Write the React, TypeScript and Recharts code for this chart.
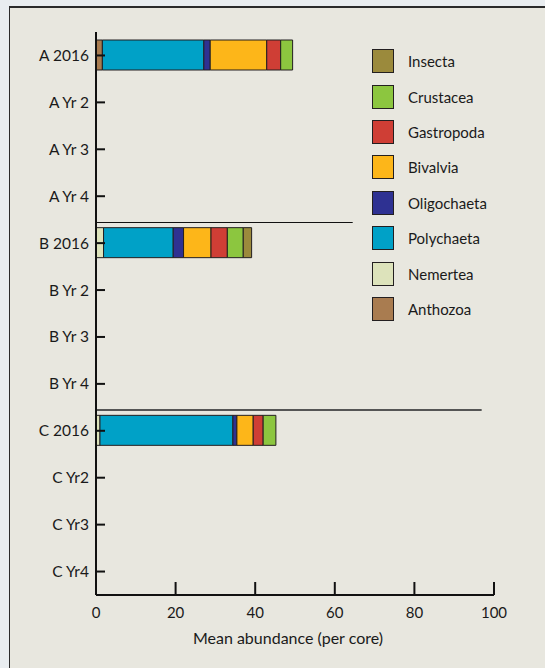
import React from "react";
import {
  BarChart,
  Bar,
  XAxis,
  YAxis,
  ReferenceLine,
} from "recharts";

const categories = [
  "A 2016", "A Yr 2", "A Yr 3", "A Yr 4",
  "B 2016", "B Yr 2", "B Yr 3", "B Yr 4",
  "C 2016", "C Yr2", "C Yr3", "C Yr4",
];

// stacked left to right
const anthozoa = [1.6, 0, 0, 0, 0, 0, 0, 0, 0, 0, 0, 0];
const nemertea = [0, 0, 0, 0, 1.9, 0, 0, 0, 1.0, 0, 0, 0];
const polychaeta = [25.5, 0, 0, 0, 17.5, 0, 0, 0, 33.4, 0, 0, 0];
const oligochaeta = [1.6, 0, 0, 0, 2.6, 0, 0, 0, 1.0, 0, 0, 0];
const bivalvia = [14.2, 0, 0, 0, 6.9, 0, 0, 0, 4.1, 0, 0, 0];
const gastropoda = [3.5, 0, 0, 0, 4.1, 0, 0, 0, 2.5, 0, 0, 0];
const crustacea = [3.0, 0, 0, 0, 4.0, 0, 0, 0, 3.2, 0, 0, 0];
const insecta = [0, 0, 0, 0, 2.1, 0, 0, 0, 0, 0, 0, 0];

const xTicks = [0, 20, 40, 60, 80, 100];

const series = [
  { key: "Anthozoa", values: anthozoa, color: "#a97c50" },
  { key: "Nemertea", values: nemertea, color: "#dde3bb" },
  { key: "Polychaeta", values: polychaeta, color: "#00a1c7" },
  { key: "Oligochaeta", values: oligochaeta, color: "#2e3192" },
  { key: "Bivalvia", values: bivalvia, color: "#fdb619" },
  { key: "Gastropoda", values: gastropoda, color: "#cf3e35" },
  { key: "Crustacea", values: crustacea, color: "#8cc63f" },
  { key: "Insecta", values: insecta, color: "#9b8a3c" },
];

const data = categories.map((name, i) => {
  const row: Record<string, number | string> = { name };
  series.forEach((s) => {
    row[s.key] = s.values[i];
  });
  return row;
});

const FONT = "Lato, 'Open Sans', sans-serif";

const XTick = (props: any) => {
  const { x, y, payload } = props;
  return (
    <g>
      <line x1={x} x2={x} y1={y - 13} y2={y} stroke="#111" strokeWidth={2} />
      <text x={x} y={y + 23} textAnchor="middle" fontSize={15} fill="#1a1a1a" fontFamily={FONT}>
        {payload.value}
      </text>
    </g>
  );
};

const YTick = (props: any) => {
  const { x, y, payload } = props;
  return (
    <g>
      <line x1={x} x2={x + 9} y1={y} y2={y} stroke="#111" strokeWidth={2} />
      <text x={x - 7} y={y + 5.5} textAnchor="end" fontSize={15.5} fill="#1a1a1a" fontFamily={FONT}>
        {payload.value}
      </text>
    </g>
  );
};

// separator lines sit a little below the band edge, snapped to the pixel grid
const SepLine = (props: any) => {
  const { x1, x2, y1, lineColor, lineWidth, shift } = props;
  const y = Math.round(y1 + shift) + (lineWidth % 2 === 1 ? 0.5 : 0);
  return <line x1={x1} x2={x2} y1={y} y2={y} stroke={lineColor} strokeWidth={lineWidth} />;
};

function SideLegend() {
  const items = [...series].reverse();
  return (
    <div style={{ position: "absolute", left: 372, top: 49, fontFamily: FONT }}>
      {items.map((s) => (
        <div key={s.key} style={{ display: "flex", alignItems: "center", height: 35.4 }}>
          <div
            style={{
              width: 20,
              height: 22,
              background: s.color,
              border: "1px solid #231f20",
              boxSizing: "content-box",
              marginTop: -11,
            }}
          />
          <span style={{ marginLeft: 14, fontSize: 15, color: "#1a1a1a", marginTop: -11 }}>{s.key}</span>
        </div>
      ))}
    </div>
  );
}

export default function App() {
  return (
    <div style={{ position: "fixed", inset: 0, overflow: "hidden", background: "#e9edf0" }}>
      <div
        style={{
          position: "absolute",
          left: 9,
          top: 6,
          width: 600,
          height: 720,
          background: "#e8e7df",
          borderTop: "2px solid #2b2b2b",
          borderLeft: "1px solid #2b2b2b",
        }}
      />
      <div style={{ position: "absolute", left: 0, top: 0 }}>
        <BarChart
          width={545}
          height={668}
          data={data}
          layout="vertical"
          margin={{ top: 32, right: 51, bottom: 23, left: 0 }}
          barSize={30}
        >
          <XAxis
            type="number"
            domain={[0, 100]}
            ticks={xTicks}
            interval={0}
            height={50}
            tickSize={0}
            tickMargin={0}
            tick={<XTick />}
            axisLine={{ stroke: "#111", strokeWidth: 2 }}
            tickLine={false}
            label={{
              value: "Mean abundance (per core)",
              position: "insideBottom",
              offset: 1,
              dx: -7,
              fontSize: 16,
              fill: "#1a1a1a",
              fontFamily: FONT,
            }}
          />
          <YAxis
            type="category"
            dataKey="name"
            width={96}
            interval={0}
            tickSize={0}
            tickMargin={0}
            tick={<YTick />}
            axisLine={{ stroke: "#111", strokeWidth: 2 }}
            tickLine={false}
          />
          <ReferenceLine
            segment={[
              { x: 0, y: "B 2016" },
              { x: 64.5, y: "B 2016" },
            ]}
            position="start"
            stroke="#111"
            ifOverflow="visible"
            shape={<SepLine lineColor="#111" lineWidth={1} shift={2.5} />}
          />
          <ReferenceLine
            segment={[
              { x: 0, y: "C 2016" },
              { x: 96.9, y: "C 2016" },
            ]}
            position="start"
            stroke="#555"
            ifOverflow="visible"
            shape={<SepLine lineColor="#555" lineWidth={2} shift={2.5} />}
          />
          {series.map((s) => (
            <Bar
              key={s.key}
              dataKey={s.key}
              stackId="a"
              fill={s.color}
              stroke="#231f20"
              strokeWidth={1}
              isAnimationActive={false}
            />
          ))}
        </BarChart>
      </div>
      <SideLegend />
    </div>
  );
}
